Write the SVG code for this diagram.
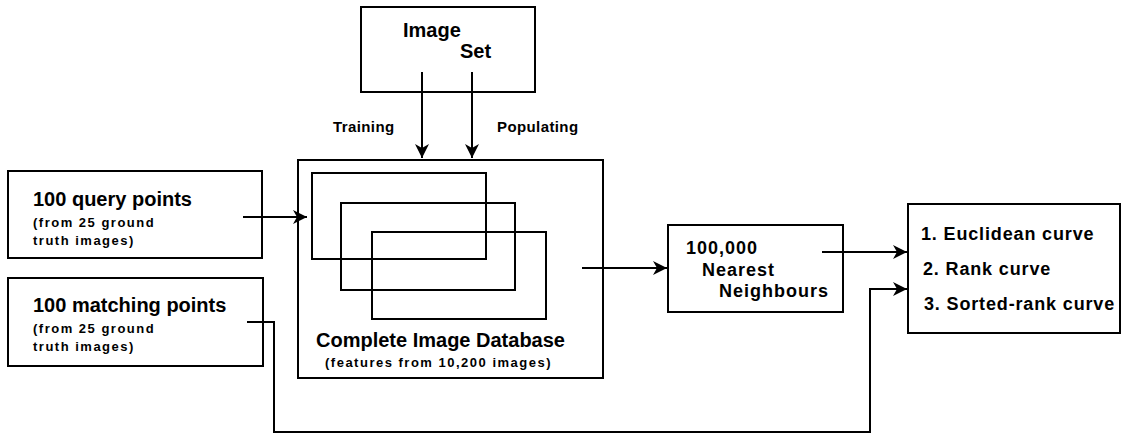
<svg xmlns="http://www.w3.org/2000/svg" width="1128" height="435" viewBox="0 0 1128 435">
<style>
  .box { fill: #fff; stroke: #000; stroke-width: 2; }
  .inner { fill: none; stroke: #000; stroke-width: 2; }
  .conn { fill: none; stroke: #000; stroke-width: 2; }
  text { font-family: "Liberation Sans", Arial, sans-serif; font-weight: bold; fill: #000; }
  .big { font-size: 20px; }
  .small { font-size: 13px; letter-spacing: 1.5px; }
  .lbl { font-size: 15px; letter-spacing: 0.4px; }
  .mid { font-size: 18px; letter-spacing: 1px; }
  .res { font-size: 18px; letter-spacing: 0.85px; }
</style>
<defs>
  <marker id="arr" markerUnits="userSpaceOnUse" markerWidth="16" markerHeight="16" refX="14" refY="7" orient="auto" overflow="visible">
    <path d="M0,0 L14,7 L0,14 L4,7 Z" fill="#000"/>
  </marker>
</defs>
<rect width="1128" height="435" fill="#fff"/>

<g id="imageset">
  <rect class="box" x="361" y="7" width="174" height="85"/>
  <text class="big" x="403" y="37">Image</text>
  <text class="big" x="460" y="58">Set</text>
</g>

<g id="database">
  <rect class="box" x="298" y="160" width="305" height="218"/>
  <rect class="inner" x="312" y="173" width="174" height="86"/>
  <rect class="inner" x="341" y="203" width="174" height="87"/>
  <rect class="inner" x="372" y="232" width="174" height="87"/>
  <text class="big" x="316" y="347">Complete Image Database</text>
  <text class="small" x="325" y="367">(features from 10,200 images)</text>
</g>

<g id="query">
  <rect class="box" x="8" y="171" width="254" height="87"/>
  <text class="big" x="33" y="206">100 query points</text>
  <text class="small" x="33" y="227">(from 25 ground</text>
  <text class="small" x="33" y="245">truth images)</text>
</g>

<g id="matching">
  <rect class="box" x="8" y="278" width="255" height="88"/>
  <text class="big" x="33" y="312">100 matching points</text>
  <text class="small" x="33" y="333">(from 25 ground</text>
  <text class="small" x="33" y="351">truth images)</text>
</g>

<g id="nn">
  <rect class="box" x="668" y="225" width="175" height="87"/>
  <text class="mid" x="686" y="254">100,000</text>
  <text class="mid" x="702" y="276">Nearest</text>
  <text class="mid" x="719" y="297">Neighbours</text>
</g>

<g id="results">
  <rect class="box" x="908" y="204" width="212" height="129"/>
  <text class="res" x="921" y="240">1. Euclidean curve</text>
  <text class="res" x="923" y="275">2. Rank curve</text>
  <text class="res" x="924" y="310">3. Sorted-rank curve</text>
</g>

<g id="labels">
  <text class="lbl" x="333" y="132">Training</text>
  <text class="lbl" x="497" y="132">Populating</text>
</g>

<g id="connectors">
  <line class="conn" x1="422" y1="72" x2="422" y2="158" marker-end="url(#arr)"/>
  <line class="conn" x1="472" y1="72" x2="472" y2="158" marker-end="url(#arr)"/>
  <line class="conn" x1="243" y1="217" x2="307" y2="217" marker-end="url(#arr)"/>
  <line class="conn" x1="582" y1="268" x2="667" y2="268" marker-end="url(#arr)"/>
  <line class="conn" x1="822" y1="252" x2="907" y2="252" marker-end="url(#arr)"/>
  <polyline class="conn" points="247,322 274,322 274,432 870,432 870,289 907,289" marker-end="url(#arr)"/>
</g>
</svg>
